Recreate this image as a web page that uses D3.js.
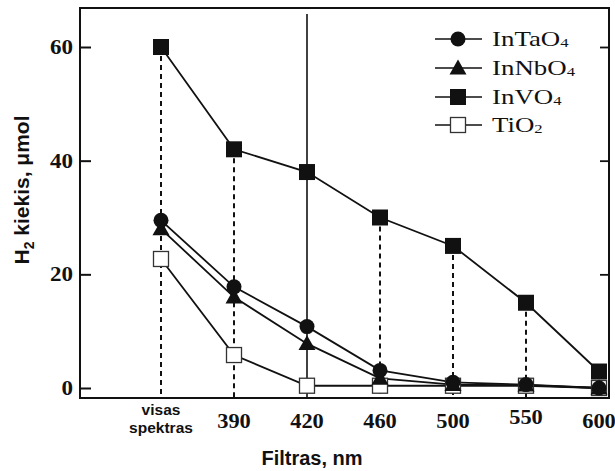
<!DOCTYPE html>
<html>
<head>
<meta charset="utf-8">
<script src="https://cdn.jsdelivr.net/npm/d3@7"></script>
<style>
  html, body { margin: 0; padding: 0; background: #fff; }
  svg { display: block; }
</style>
</head>
<body>
<svg id="chart" width="615" height="471"></svg>
<script>
// Filter categories along the x axis
const categories = ["visas spektras", "390", "420", "460", "500", "550", "600"];
// H2 yield (µmol) per photocatalyst
const inTaO4 = [29.5, 17.8, 10.8, 3.1, 1.0, 0.6, 0.0];
const inNbO4 = [28.0, 16.0, 7.8, 1.7, 0.6, 0.5, 0.0];
const inVO4  = [60.0, 42.0, 38.0, 30.0, 25.0, 15.0, 2.9];
const tiO2   = [22.7, 5.8, 0.4, 0.4, 0.4, 0.4, 0.0];
const yTicks = [0, 20, 40, 60];

const series = [
  { name: "InTaO", sub: "4", values: inTaO4, shape: "circle" },
  { name: "InNbO", sub: "4", values: inNbO4, shape: "triangle" },
  { name: "InVO",  sub: "4", values: inVO4,  shape: "square" },
  { name: "TiO",   sub: "2", values: tiO2,   shape: "open" }
];

const svg = d3.select("#chart");
const frame = { left: 80, right: 609, top: 8, bottom: 398 };
const ink = "#111";
const serif = "'Liberation Serif', 'Times New Roman', serif";
const sans = "'Liberation Sans', Arial, sans-serif";

const x = d3.scaleLinear().domain([0, categories.length - 1]).range([161, 599]);
const y = d3.scaleLinear().domain([0, 60]).range([388, 47]);

// Text drawn with a slight horizontal widening (wide serif face)
function wideText(g, tx, ty, sx, size, anchor, bold) {
  return g.append("text")
    .attr("transform", `translate(${tx},${ty}) scale(${sx},1)`)
    .attr("text-anchor", anchor)
    .attr("font-family", serif)
    .attr("font-weight", bold ? "bold" : "normal")
    .attr("font-size", size).attr("fill", ink);
}

// Marker drawing helper
function marker(g, shape, cx, cy) {
  if (shape === "circle") {
    g.append("circle").attr("cx", cx).attr("cy", cy).attr("r", 7.5).attr("fill", ink);
  } else if (shape === "triangle") {
    const s = 8.5;
    g.append("path")
      .attr("d", `M${cx},${cy - s} L${cx + s},${cy + s * 0.75} L${cx - s},${cy + s * 0.75} Z`)
      .attr("fill", ink);
  } else if (shape === "square") {
    g.append("rect").attr("x", cx - 8).attr("y", cy - 8).attr("width", 16).attr("height", 16).attr("fill", ink);
  } else {
    g.append("rect").attr("x", cx - 7.5).attr("y", cy - 7.5).attr("width", 15).attr("height", 15)
      .attr("fill", "#fff").attr("stroke", "#333").attr("stroke-width", 1.3);
  }
}

// Dashed drop lines from the InVO4 points, solid guide at 420 nm
const guides = svg.append("g");
inVO4.forEach((v, i) => {
  if (i === categories.length - 1) return;
  if (categories[i] === "420") {
    guides.append("line")
      .attr("x1", x(i)).attr("x2", x(i)).attr("y1", 14).attr("y2", frame.bottom)
      .attr("stroke", ink).attr("stroke-width", 1.6);
  } else {
    guides.append("line")
      .attr("x1", x(i)).attr("x2", x(i)).attr("y1", y(v)).attr("y2", frame.bottom)
      .attr("stroke", ink).attr("stroke-width", 2).attr("stroke-dasharray", "5,4");
  }
});

// Series lines
const line = d3.line().x((d, i) => x(i)).y(d => y(d));
series.forEach(s => {
  svg.append("path").datum(s.values).attr("d", line)
    .attr("fill", "none").attr("stroke", ink).attr("stroke-width", 1.8);
});
// Series markers (open squares first, filled ones on top)
[3, 1, 0, 2].forEach(k => {
  const s = series[k];
  const g = svg.append("g");
  s.values.forEach((v, i) => marker(g, s.shape, x(i), y(v)));
});

// Plot frame
svg.append("rect")
  .attr("x", frame.left).attr("y", frame.top)
  .attr("width", frame.right - frame.left).attr("height", frame.bottom - frame.top)
  .attr("fill", "none").attr("stroke", ink).attr("stroke-width", 2);

// Left axis: inward ticks, labels placed alongside
const leftAxis = d3.axisLeft(y).tickValues(yTicks).tickSize(-11).tickFormat("");
const gl = svg.append("g").attr("transform", `translate(${frame.left},0)`).call(leftAxis);
gl.select(".domain").remove();
gl.selectAll(".tick line").attr("stroke", ink).attr("stroke-width", 2);
yTicks.forEach(v => {
  wideText(svg, 73, y(v) + 7, 1.15, 20, "end", true).text(d3.format("d")(v));
});

// Right axis inward ticks
const rightAxis = d3.axisRight(y).tickValues(yTicks.filter(d => d > 0)).tickSize(-9).tickFormat("");
const gr = svg.append("g").attr("transform", `translate(${frame.right},0)`).call(rightAxis);
gr.select(".domain").remove();
gr.selectAll(".tick line").attr("stroke", ink).attr("stroke-width", 1.8);

// Bottom category labels
categories.forEach((c, i) => {
  if (c === "visas spektras") {
    const t = svg.append("text").attr("text-anchor", "middle")
      .attr("font-family", sans).attr("font-weight", "bold")
      .attr("font-size", 15.5).attr("fill", ink);
    t.append("tspan").attr("x", x(i)).attr("y", 415).text("visas");
    t.append("tspan").attr("x", x(i)).attr("y", 433).text("spektras");
  } else {
    wideText(svg, x(i), c === "550" ? 424 : 428, 1.12, 20, "middle", true).text(c);
  }
});

// Axis titles
svg.append("text").attr("x", 312).attr("y", 465).attr("text-anchor", "middle")
  .attr("font-family", sans).attr("font-weight", "bold")
  .attr("font-size", 20).attr("fill", ink).text("Filtras, nm");

const yt = svg.append("text").attr("transform", "translate(29,190) rotate(-90)")
  .attr("text-anchor", "middle")
  .attr("font-family", sans).attr("font-weight", "bold")
  .attr("font-size", 21).attr("fill", ink);
yt.append("tspan").text("H");
yt.append("tspan").attr("font-size", 14).attr("dy", 5).text("2");
yt.append("tspan").attr("dy", -5).text(" kiekis, μmol");

// Legend
const legend = svg.append("g");
const legendY = [39, 68, 97, 125];
series.forEach((s, k) => {
  const ly = legendY[k];
  legend.append("line").attr("x1", 435).attr("x2", 482).attr("y1", ly).attr("y2", ly)
    .attr("stroke", ink).attr("stroke-width", 1.6);
  marker(legend, s.shape, 458, ly);
  const t = wideText(legend, 492, ly + 7, 1.28, 21, "start", false);
  t.append("tspan").text(s.name);
  t.append("tspan").attr("font-size", 13).attr("dy", 1).text(s.sub);
});
</script>
</body>
</html>
